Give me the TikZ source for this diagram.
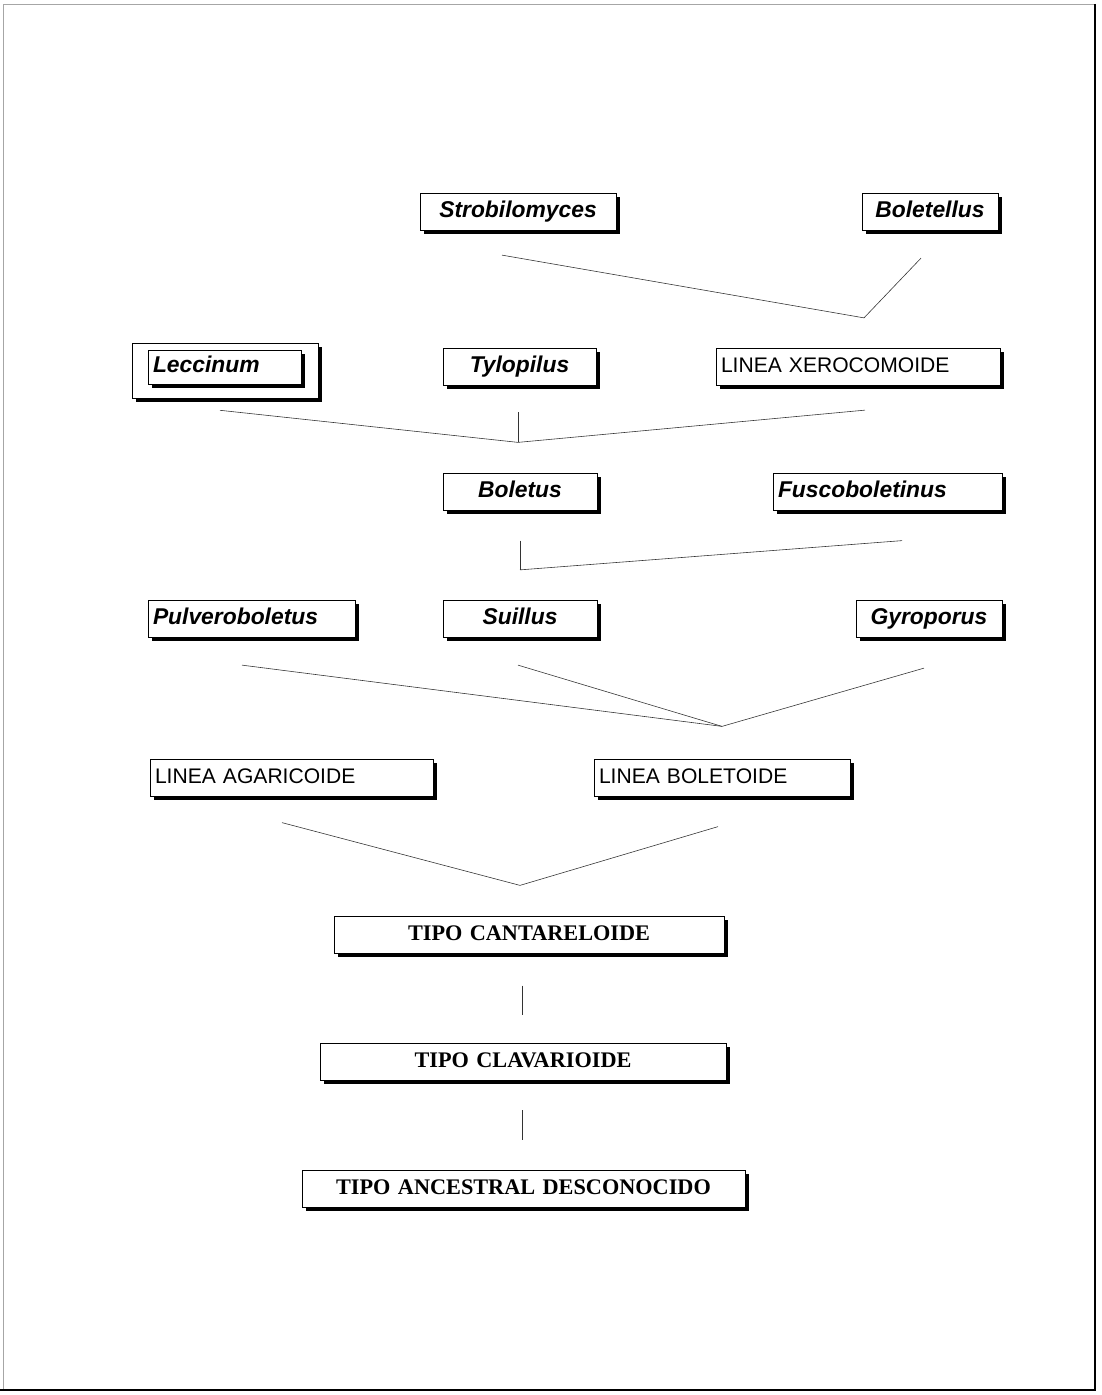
\documentclass[tikz,border=0pt]{standalone}
\usepackage{fontspec}
\setmainfont{Liberation Serif}
\setsansfont{Liberation Sans}
\usetikzlibrary{calc,shadows}

\begin{document}
\begin{tikzpicture}[x=0.3mm,y=-0.3mm,
  box/.style={draw,line width=0.5pt,fill=white,inner xsep=1.5mm,minimum height=11mm,
    text height=14pt,text depth=4pt,
    drop shadow={opacity=1,fill=black,shadow xshift=1.1mm,shadow yshift=-1.1mm}},
  genus/.style={box,font=\sffamily\bfseries\itshape\fontsize{19.5}{22}\selectfont},
  linea/.style={box,font=\sffamily\fontsize{18}{21}\selectfont,align=left},
  tipo/.style={box,font=\rmfamily\bfseries\fontsize{19}{22}\selectfont,align=center},
  link/.style={black!80,line width=0.5pt}]
\useasboundingbox (0,0) rectangle (1101,1395);
% page frame
\draw[gray!70,line width=0.4pt] (3,1390)--(3,4)--(1095,4);
\draw[line width=2.5pt] (1095,4)--(1095,1390)--(0,1390);
% boxes
\node[genus,text width=55.8mm,align=center] (strob) at (518,211.5) {Strobilomyces};
\node[genus,text width=37.8mm,align=center] (bolet) at (930,211.5) {Boletellus};
\node[box,minimum width=55.8mm,minimum height=16.5mm] (leccout) at (225,370.5) {};
\node[genus,text width=42.9mm,align=left,minimum height=10.2mm] (lecc) at (224.5,367) {Leccinum};
\node[genus,text width=42.9mm,align=center] (tylo) at (519.5,366.5) {Tylopilus};
\node[linea,text width=82.2mm] (xero) at (858,366.5) {LINEA XEROCOMOIDE};
\node[genus,text width=43.2mm,align=center] (boletus) at (520,492) {Boletus};
\node[genus,text width=65.7mm,align=left] (fusco) at (887.5,492) {Fuscoboletinus};
\node[genus,text width=59.1mm,align=left] (pulv) at (251.5,618.5) {Pulveroboletus};
\node[genus,text width=43.2mm,align=center] (suil) at (520,618.5) {Suillus};
\node[genus,text width=40.8mm,align=center] (gyro) at (929,618.5) {Gyroporus};
\node[linea,text width=81.9mm] (agar) at (291.5,778) {LINEA AGARICOIDE};
\node[linea,text width=73.8mm] (boletoid) at (722,778) {LINEA BOLETOIDE};
\node[tipo,text width=114mm] (cant) at (529,935) {TIPO CANTARELOIDE};
\node[tipo,text width=118.8mm] (clav) at (523,1061.5) {TIPO CLAVARIOIDE};
\node[tipo,text width=129.9mm] (anc) at (523.5,1189) {TIPO ANCESTRAL DESCONOCIDO};
% junctions
\coordinate (xj) at ($(xero.north)+(6,-30)$);
\coordinate (bj) at ($(boletus.north)+(-2,-31)$);
\coordinate (sj) at ($(suil.north)+(0,-30)$);
\coordinate (lj) at ($(boletoid.north)+(0,-33)$);
\coordinate (cj) at ($(cant.north)+(-9,-31)$);
% connectors
\foreach \n/\dx/\dy in {strob/-16/25,bolet/-9/28}
  \draw[link] ($(\n.south)+(\dx,\dy)$) -- (xj);
\foreach \n/\dx/\dy in {leccout/-5/12,tylo/-1.5/27,xero/7/25}
  \draw[link] ($(\n.south)+(\dx,\dy)$) -- (bj);
\foreach \n/\dx/\dy in {boletus/0/30,fusco/14.5/30}
  \draw[link] ($(\n.south)+(\dx,\dy)$) -- (sj);
\foreach \n/\dx/\dy in {pulv/-9.5/28,suil/-2/28,gyro/-5/31}
  \draw[link] ($(\n.south)+(\dx,\dy)$) -- (lj);
\foreach \n/\dx/\dy in {agar/-9.5/26,boletoid/-4/30}
  \draw[link] ($(\n.south)+(\dx,\dy)$) -- (cj);
\draw[link] ($(cant.south)+(-7,32)$) -- ($(clav.north)+(-1,-28)$);
\draw[link] ($(clav.south)+(-1,30)$) -- ($(anc.north)+(-1.5,-30)$);
\end{tikzpicture}
\end{document}
